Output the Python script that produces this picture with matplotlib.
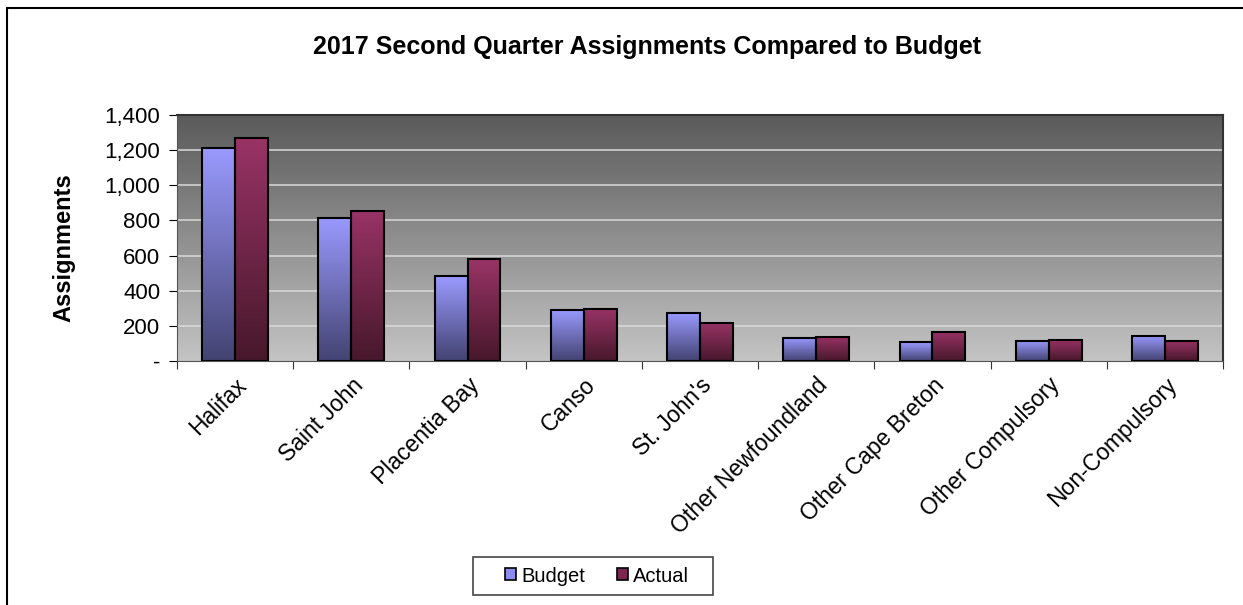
import matplotlib.pyplot as plt
import numpy as np
from matplotlib.colors import LinearSegmentedColormap
from matplotlib.patches import Rectangle
from matplotlib.ticker import FuncFormatter

plt.rcParams['font.family'] = ['Liberation Sans', 'DejaVu Sans']

## Datos del gráfico
categorias = ['Halifax', 'Saint John', 'Placentia Bay', 'Canso', "St. John's",
              'Other Newfoundland', 'Other Cape Breton', 'Other Compulsory',
              'Non-Compulsory']
budget = [1214, 814, 481, 291, 276, 131, 108, 114, 143]
actual = [1271, 856, 580, 297, 219, 137, 167, 120, 114]
series = ['Budget', 'Actual']

fig = plt.figure(figsize=(12.43, 6.05), dpi=100)
ax = fig.add_axes([177/1243, 1-361/605, (1223-177)/1243, (361-115)/605])

## Fondo degradado del área de trazado
fondo = LinearSegmentedColormap.from_list('fondo', ['#c4c4c4', '#5a5a5a'])
ax.imshow(np.linspace(0, 1, 256).reshape(-1, 1), cmap=fondo, origin='lower',
          extent=[0, 1, 0, 1], transform=ax.transAxes, aspect='auto', zorder=0)

cmap_b = LinearSegmentedColormap.from_list('b', ['#434372', '#9a9aff'])
cmap_a = LinearSegmentedColormap.from_list('a', ['#47182b', '#993366'])

x = np.arange(len(categorias))
ancho = 0.283
grad = np.linspace(0, 1, 128).reshape(-1, 1)
for valores, desp, cm in [(budget, -ancho/2, cmap_b), (actual, ancho/2, cmap_a)]:
    barras = ax.bar(x + desp, valores, ancho, facecolor='none', edgecolor='black',
                    linewidth=1.5, zorder=4)
    for b in barras:
        x0, w, h = b.get_x(), b.get_width(), b.get_height()
        ax.imshow(grad, cmap=cm, origin='lower', extent=[x0, x0 + w, 0, h],
                  aspect='auto', zorder=3)

ax.set_xlim(-0.5, len(categorias) - 0.5)
ax.set_ylim(0, 1400)
ax.set_yticks(np.arange(0, 1401, 200))
ax.yaxis.set_major_formatter(FuncFormatter(lambda v, p: '-' if v == 0 else f'{int(v):,}'))
for v in range(200, 1400, 200):
    ax.axhline(v, color='#dadada', linewidth=1.1, zorder=1)

ax.set_xticks(np.arange(-0.5, len(categorias), 1))
ax.set_xticklabels([])
ax.set_xticks(x, minor=True)
ax.set_xticklabels(categorias, minor=True, rotation=45, ha='right',
                   rotation_mode='anchor', fontsize=16.5)
ax.tick_params(axis='x', which='minor', length=0, pad=9)
ax.tick_params(axis='x', which='major', length=6, direction='out', color='#333333')
ax.tick_params(axis='y', length=6, direction='out', labelsize=16, pad=6)

for s in ['top', 'right']:
    ax.spines[s].set_color('#333333')
    ax.spines[s].set_linewidth(1.5)
ax.spines['left'].set_color('#555555')
ax.spines['bottom'].set_color('#555555')

ax.set_ylabel('Assignments', fontsize=17, fontweight='bold', labelpad=21)
ax.yaxis.label.set_y(0.46)
fig.text(647/1243, 1-47/605, '2017 Second Quarter Assignments Compared to Budget',
         ha='center', va='center', fontsize=18, fontweight='bold')

## Leyenda
h_b = Rectangle((0, 0), 1, 1, facecolor='#8c8cf0', edgecolor='black', linewidth=1.2)
h_a = Rectangle((0, 0), 1, 1, facecolor='#7a2850', edgecolor='black', linewidth=1.2)
leg = fig.legend([h_b, h_a], series, loc='center', bbox_to_anchor=(597/1243, 1-576/605),
                 ncol=2, fontsize=14.5, frameon=False, handlelength=0.55,
                 handleheight=0.55, handletextpad=0.25, columnspacing=1.6,
                 borderpad=0.3)
fig.patches.append(Rectangle((473/1243, 1-595/605), 240/1243, 38/605,
                             transform=fig.transFigure, fill=False,
                             edgecolor='#444444', linewidth=1.2))

## Borde exterior
fig.patches.append(Rectangle((7/1243, -0.1), 1.2, 1-8/605 + 0.1, transform=fig.transFigure,
                             fill=False, edgecolor='black', linewidth=1.5))

fig.savefig('out.png', dpi=100)
